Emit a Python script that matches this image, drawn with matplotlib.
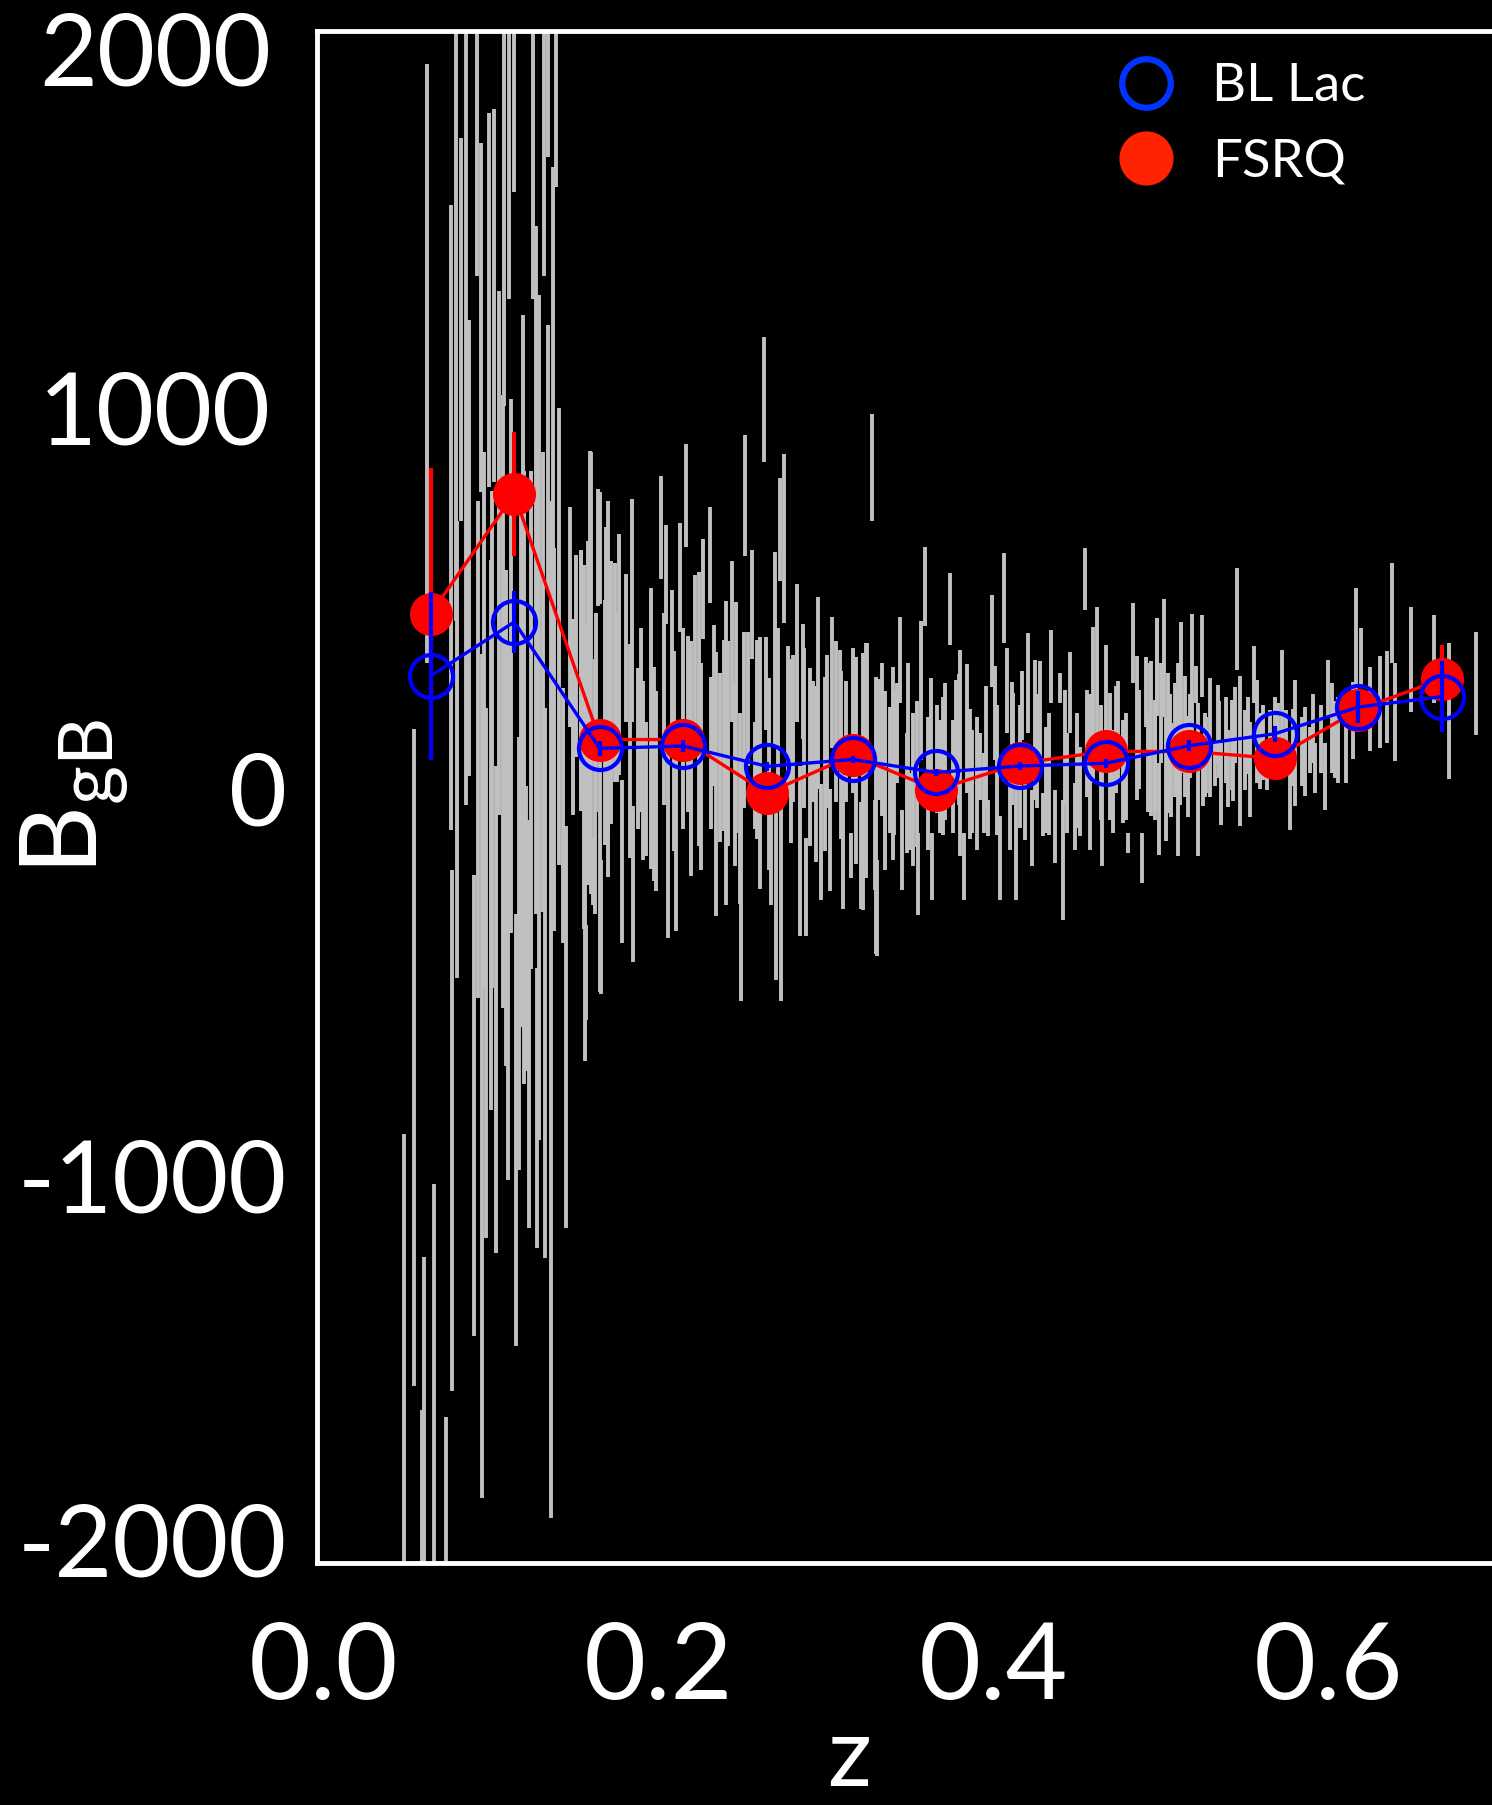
import matplotlib
matplotlib.use("Agg")
import matplotlib.pyplot as plt
from matplotlib.lines import Line2D
from matplotlib.transforms import ScaledTranslation

# ---------------------------------------------------------------
# Binned averages per redshift bin
# ---------------------------------------------------------------
z_bin = [0.064, 0.114, 0.165, 0.215, 0.265, 0.316, 0.366,
         0.416, 0.467, 0.517, 0.568, 0.618, 0.668]

bll_val = [316, 457, 127, 133, 80, 98, 64, 81, 88, 134, 165, 235, 262]
bll_err = [220, 81, 20, 15, 12, 10, 10, 10, 11, 15, 21, 42, 92]

fsrq_val = [478, 791, 150, 150, 10, 109, 19, 88, 119, 119, 101, 228, 308]
fsrq_err = [381, 162, 20, 15, 15, 12, 12, 10, 10, 12, 15, 40, 89]

# ---------------------------------------------------------------
# Individual sources: redshift, value, 1-sigma half width
# ---------------------------------------------------------------
bg_z = [
    0.048, 0.054, 0.059, 0.060, 0.062, 0.066, 0.073, 0.076, 0.077, 0.079,
    0.080, 0.082, 0.085, 0.087, 0.090, 0.092, 0.0924, 0.094, 0.095, 0.097,
    0.099, 0.100, 0.102, 0.103, 0.105, 0.108, 0.109, 0.111, 0.112, 0.114,
    0.115, 0.117, 0.119, 0.121, 0.123, 0.125, 0.127, 0.1273, 0.129, 0.132,
    0.1324, 0.134, 0.1342, 0.136, 0.137, 0.139, 0.141, 0.143, 0.145, 0.147,
    0.149, 0.151, 0.154, 0.156, 0.158, 0.160, 0.162, 0.165, 0.1651, 0.168,
    0.170, 0.096, 0.101, 0.107, 0.118, 0.124, 0.131, 0.138, 0.110, 0.120,
    # 0.15 - 0.33
    0.1541, 0.1555, 0.1567, 0.1595, 0.1611, 0.1640, 0.1660, 0.1686, 0.1720, 0.1740,
    0.1766, 0.1786, 0.1810, 0.1840, 0.1849, 0.1879, 0.1909, 0.1929, 0.1955, 0.1989,
    0.2019, 0.2044, 0.2058, 0.2084, 0.2104, 0.2128, 0.2148, 0.2168, 0.2194, 0.2218,
    0.2243, 0.2267, 0.2307, 0.2317, 0.2343, 0.2367, 0.2403, 0.2417, 0.2442, 0.2466,
    0.2486, 0.2496, 0.2520, 0.2536, 0.2562, 0.2576, 0.2606, 0.2631, 0.2645, 0.2675,
    0.2695, 0.2705, 0.2725, 0.2735, 0.2749, 0.2775, 0.2805, 0.2825, 0.2844, 0.2864,
    0.2884, 0.2904, 0.2924, 0.2954, 0.2974, 0.2994, 0.3024, 0.3037, 0.3063, 0.3083,
    0.3103, 0.3123, 0.3153, 0.3183, 0.3213, 0.3242, 0.3278, 0.3302,
    # 0.32 - 0.50
    0.3223, 0.3247, 0.3293, 0.3306, 0.3318, 0.3352, 0.3382, 0.3402, 0.3422, 0.3442,
    0.3452, 0.3482, 0.3502, 0.3521, 0.3551, 0.3571, 0.3591, 0.3611, 0.3631, 0.3661,
    0.3681, 0.3710, 0.3740, 0.3760, 0.3780, 0.3800, 0.3824, 0.3840, 0.3870, 0.3900,
    0.3919, 0.3943, 0.3969, 0.3995, 0.4009, 0.4039, 0.4063, 0.4079, 0.4099, 0.4118,
    0.4138, 0.4174, 0.4188, 0.4208, 0.4228, 0.4248, 0.4278, 0.4298, 0.4317, 0.4347,
    0.4367, 0.4397, 0.4417, 0.4437, 0.4457, 0.4487, 0.4516, 0.4546, 0.4576, 0.4596,
    0.4620, 0.4646, 0.4672, 0.4696, 0.4715, 0.4745, 0.4775, 0.4805, 0.4831, 0.4855,
    0.4885, 0.4914, 0.4938, 0.4964, 0.4978,
    # 0.49 - 0.70
    0.4944, 0.4964, 0.4978, 0.4990, 0.5004, 0.5020, 0.5030, 0.5043, 0.5063, 0.5083,
    0.5103, 0.5123, 0.5143, 0.5163, 0.5189, 0.5213, 0.5223, 0.5243, 0.5252, 0.5272,
    0.5292, 0.5322, 0.5342, 0.5362, 0.5392, 0.5402, 0.5422, 0.5441, 0.5455, 0.5471,
    0.5501, 0.5531, 0.5555, 0.5575, 0.5611, 0.5631, 0.5654, 0.5700, 0.5726, 0.5750,
    0.5774, 0.5800, 0.5840, 0.5859, 0.5889, 0.5919, 0.5959, 0.5979, 0.5999, 0.6019,
    0.6058, 0.6108, 0.6168, 0.6198, 0.6311, 0.6381, 0.6401, 0.6492, 0.6631, 0.6721,
    0.6884,
    # densely populated core, 0.15 - 0.64
    0.1575, 0.1630, 0.1700, 0.1755, 0.1830, 0.1895, 0.1975, 0.2035, 0.2095, 0.2180,
    0.2255, 0.2330, 0.2390, 0.2455, 0.2510, 0.2590, 0.2660, 0.2715, 0.2790, 0.2870,
    0.2940, 0.3010, 0.3090, 0.3165, 0.3230, 0.3335, 0.3410, 0.3490, 0.3545, 0.3625,
    0.3700, 0.3795, 0.3860, 0.3955, 0.4020, 0.4110, 0.4160, 0.4260, 0.4330, 0.4425,
    0.4500, 0.4560, 0.4640, 0.4730, 0.4790, 0.4870, 0.4925, 0.5055, 0.5115, 0.5175,
    0.5265, 0.5350, 0.5430, 0.5520, 0.5595, 0.5680, 0.5790, 0.5910, 0.6040, 0.6150,
    0.6250, 0.6350,
]

bg_val = [
    -1590, -680, -1950, -1750, 1131, -1655, -1960, 730, -870, 1380,
    124, 1220, 1140, 650, -805, 1830, 124, 1252, -728, -459,
    1297, -100, 1310, -555, 637, 1660, -55, 1800, 342, 1940,
    -870, -408, 630, -343, -593, 1800, 592, -812, 208, 1830,
    -485, 1985, 887, -555, 1041, 1946, 419, -48, -600, 470,
    208, 368, 323, -190, 220, 323, 28, 650, -177, 195,
    336, 200, 150, 250, 100, 200, 300, 150, -300, 50,
    305, 130, -458, 716, -194, 652, -339, 526, 273, 325,
    372, -168, 389, 488, -228, 127, 69, 22, 179, 16,
    704, 581, -103, 363, -118, 573, 179, 787, 101, 342,
    229, 543, 631, 115, 34, 103, 115, 139, 407, 208,
    -30, -226, 786, 255, 503, 57, 89, 1038, 296, -130,
    383, -222, 698, -261, 675, 197, 179, 377, -141, 302,
    -234, 104, 145, 272, -118, 86, -112, 299, 197, 226,
    -118, 145, -153, 95, -153, 95, 861, -48,
    41, 275, -125, -290, 150, 43, 71, 88, 167, 358,
    -138, 10, -38, 19, -201, 278, 550, 36, -181, 100,
    54, 119, 491, 54, 158, 115, -181, 178, 41, 36,
    80, 10, -55, 408, 219, -159, 520, 278, -42, 149,
    -111, 239, 1, 297, -81, 175, 217, -46, 45, 341,
    -77, 284, -164, 36, 273, -51, 14, 569, 66, 240,
    332, -50, 239, 106, 41, 169, 67, -120, 402, 180,
    -159, 275, 180, 97, 339,
    152, 102, 356, -32, 219, 363, 47, 141, 71, 149,
    97, 259, 158, 80, 309, 293, 45, 369, 41, 110,
    156, 85, 190, 34, 149, 75, 136, 188, 465, 119,
    123, 73, 319, 171, 143, 80, 158, 189, 223, 158,
    1, 141, 119, 119, 123, 75, 152, 54, 284, 180,
    149, 141, 404, 365, 248, 480, 221, 360, 361, 225,
    296,
    150, 220, 90, 260, 120, 200, 60, 230, 120, 190,
    80, 240, 160, 60, 200, 150, 60, 220, 120, 180,
    60, 170, 110, 200, 70, 150, 90, 170, 60, 140,
    80, 150, 60, 130, 70, 140, 80, 120, 60, 130,
    70, 140, 90, 150, 80, 150, 90, 150, 100, 160,
    110, 150, 100, 160, 120, 170, 130, 180, 150, 200,
    230, 260,
]

bg_err = [
    710, 857, 350, 550, 782, 645, 340, 817, 680, 920,
    596, 500, 1160, 596, 602, 470, 648, 455, 1102, 692,
    488, 718, 487, 635, 685, 640, 647, 500, 698, 360,
    564, 565, 628, 372, 532, 500, 898, 366, 1103, 470,
    718, 315, 346, 1327, 603, 354, 596, 333, 525, 288,
    256, 263, 320, 500, 449, 577, 333, 147, 333, 320,
    436, 700, 650, 800, 700, 650, 600, 500, 700, 800,
    341, 475, 125, 187, 88, 152, 175, 178, 344, 285,
    315, 213, 192, 291, 204, 210, 233, 175, 367, 262,
    134, 128, 265, 178, 233, 143, 262, 135, 306, 238,
    358, 131, 125, 198, 344, 221, 396, 268, 210, 302,
    250, 306, 158, 175, 143, 140, 329, 163, 122, 152,
    256, 257, 134, 271, 221, 198, 192, 180, 221, 151,
    128, 233, 157, 250, 151, 227, 134, 172, 210, 157,
    175, 157, 58, 271, 140, 306, 140, 361,
    335, 126, 117, 126, 157, 233, 165, 252, 130, 113,
    104, 157, 100, 200, 107, 181, 104, 174, 87, 141,
    148, 178, 94, 148, 148, 270, 87, 168, 135, 174,
    87, 104, 48, 120, 122, 109, 117, 111, 96, 122,
    157, 89, 113, 130, 100, 183, 137, 57, 139, 96,
    96, 39, 157, 130, 106, 87, 117, 80, 204, 204,
    165, 130, 159, 165, 135, 133, 135, 26, 105, 187,
    65, 91, 170, 156, 128,
    202, 144, 111, 120, 131, 153, 163, 183, 122, 148,
    252, 197, 157, 131, 168, 48, 200, 107, 65, 100,
    155, 57, 102, 107, 113, 100, 117, 100, 133, 196,
    104, 124, 74, 135, 98, 61, 70, 57, 161, 70,
    87, 165, 91, 117, 61, 65, 89, 87, 74, 117,
    113, 104, 141, 76, 120, 131, 128, 137, 115, 178,
    134,
    300, 260, 300, 220, 280, 240, 280, 250, 260, 230,
    270, 210, 250, 240, 230, 260, 250, 220, 240, 210,
    230, 200, 220, 190, 210, 200, 190, 180, 190, 170,
    180, 170, 170, 160, 170, 160, 160, 150, 160, 150,
    150, 140, 150, 140, 140, 130, 130, 120, 120, 110,
    110, 100, 110, 100, 100, 90, 100, 90, 100, 100,
    110, 120,
]

x_ticks = [0.0, 0.2, 0.4, 0.6]
x_tick_labels = ["0.0", "0.2", "0.4", "0.6"]
y_ticks = [-2000, -1000, 0, 1000, 2000]
y_tick_labels = ["-2000", "-1000", "0", "1000", "2000"]

# ---------------------------------------------------------------
# Style
# ---------------------------------------------------------------
plt.rcParams["font.family"] = ["Lato", "DejaVu Sans"]
plt.rcParams["mathtext.fontset"] = "custom"
plt.rcParams["mathtext.rm"] = "Lato"
plt.rcParams["mathtext.default"] = "regular"
plt.rcParams["axes.unicode_minus"] = False

fig = plt.figure(figsize=(14.92, 18.05), dpi=100, facecolor="black")
ax = fig.add_axes([0.2122, 0.1341, 0.8465, 0.8487], facecolor="black")

# individual sources
ax.errorbar(bg_z, bg_val, yerr=bg_err, fmt="none", ecolor="#c0c0c0",
            elinewidth=2.8, capsize=0, zorder=1)

# FSRQ binned means
ax.errorbar(z_bin, fsrq_val, yerr=fsrq_err, fmt="-o", color="#ff0000",
            lw=2.4, ms=31, mfc="#ff0000", mec="#ff0000", mew=0,
            elinewidth=3, capsize=0, zorder=3)

# BL Lac binned means
ax.errorbar(z_bin, bll_val, yerr=bll_err, fmt="-o", color="#0000ff",
            lw=2.4, ms=31, mfc="none", mec="#0000ff", mew=3,
            elinewidth=3, capsize=0, zorder=4)

ax.set_xlim(-0.004, 0.75)
ax.set_ylim(-2000, 2000)

ax.set_xticks(x_ticks)
ax.set_xticklabels(x_tick_labels)
ax.set_yticks(y_ticks)
ax.set_yticklabels(y_tick_labels)
ax.tick_params(axis="both", length=0, colors="white")
ax.tick_params(axis="x", labelsize=77, pad=42)
ax.tick_params(axis="y", labelsize=72, pad=21)

# nudge the y tick labels (points: dx, dy)
y_label_shift = {"-2000": (0, 16.6), "-1000": (0, 3.3), "0": (0, 5.8),
                 "1000": (-12, 5.0), "2000": (-12, -12.4)}
for lab in ax.get_yticklabels():
    dx, dy = y_label_shift[lab.get_text()]
    lab.set_transform(lab.get_transform() +
                      ScaledTranslation(dx / 72, dy / 72, fig.dpi_scale_trans))

for side in ["left", "right", "top", "bottom"]:
    ax.spines[side].set_color("white")
    ax.spines[side].set_linewidth(3.5)

ax.set_xlabel("z", fontsize=70, color="white")
ax.xaxis.set_label_coords(0.422, -0.099)
ax.set_ylabel("B$_{gB}$", fontsize=77, color="white")
ax.yaxis.set_label_coords(-0.146, 0.5)

handles = [
    Line2D([], [], marker="o", ls="none", ms=35, mfc="none",
           mec="#0033ff", mew=4.5),
    Line2D([], [], marker="o", ls="none", ms=39, mfc="#ff2200",
           mec="#ff2200", mew=0),
]
leg = ax.legend(handles, ["BL Lac", "FSRQ"], loc="upper left",
                bbox_to_anchor=(0.7503, 0.965), bbox_transform=fig.transFigure,
                frameon=False, fontsize=38, labelcolor="white",
                handlelength=1.0, handletextpad=0.76, labelspacing=0.54,
                borderpad=0, borderaxespad=0)

fig.savefig("out.png", dpi=100, facecolor="black")
